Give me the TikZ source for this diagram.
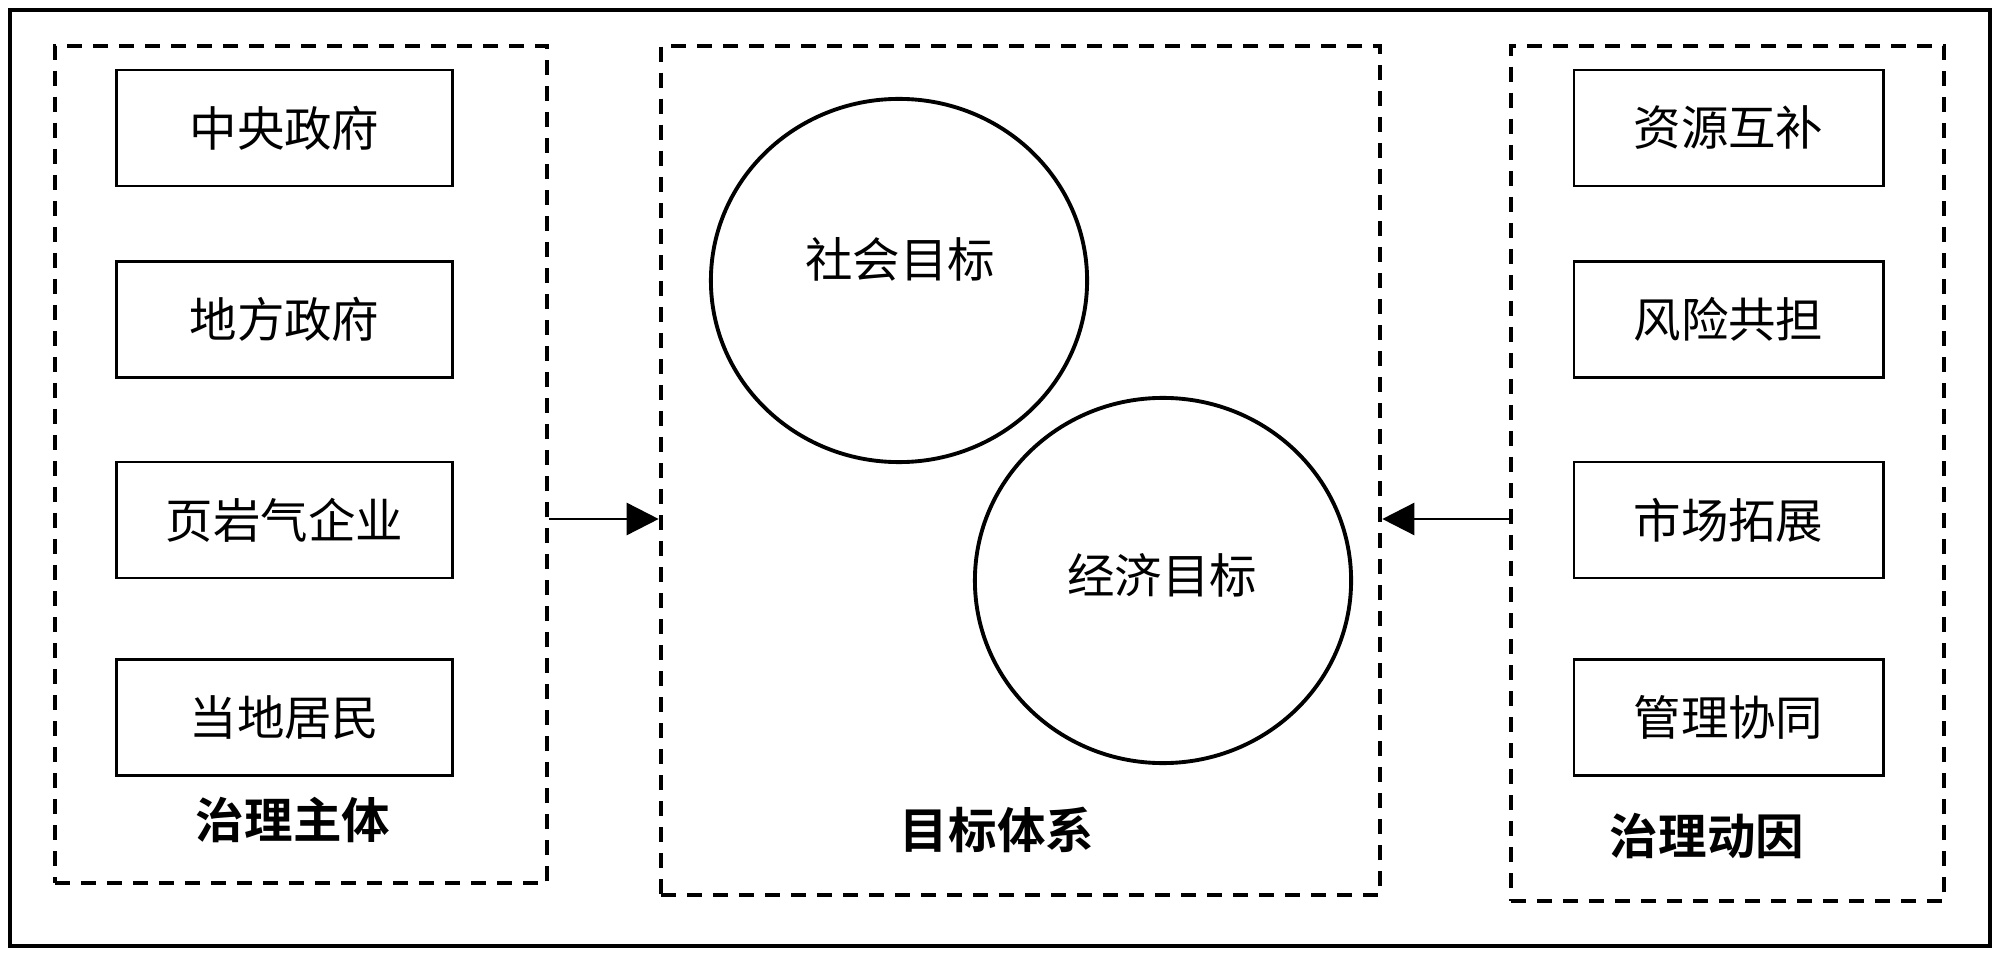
\documentclass[tikz,border=0pt]{standalone}
\usepackage{fontspec}
\usetikzlibrary{arrows.meta,shapes.geometric}
\newfontfamily\cjk{Noto Sans CJK SC}
\newfontfamily\cjkb{Noto Sans CJK SC Bold}
\begin{document}
\begin{tikzpicture}[x=0.01cm,y=-0.01cm,
  dbox/.style={draw,line width=1.2pt,dash pattern=on 0.15cm off 0.11cm,minimum height=#1,inner sep=0pt},
  itembox/.style={draw,line width=0.8pt,minimum height=1.16cm,inner sep=0pt,font=\cjk\fontsize{13.5pt}{15pt}\selectfont},
  ring/.style={draw,ellipse,line width=1.1pt,inner sep=0pt},
  title/.style={font=\cjkb\fontsize{13.8pt}{15pt}\selectfont,inner sep=0pt},
  txt/.style={font=\cjk\fontsize{13.5pt}{15pt}\selectfont,inner sep=0pt},
  arr/.style={line width=0.75pt,-{Triangle[length=0.32cm,width=0.32cm]}}]
\useasboundingbox (0,0) rectangle (2000,955);
\draw[line width=1.3pt] (10,10) rectangle (1990,946);
% dashed groups
\node[dbox=8.37cm,minimum width=4.92cm] (L) at (301,464.5) {};
\node[dbox=8.49cm,minimum width=7.19cm] (M) at (1020.5,470.5) {};
\node[dbox=8.55cm,minimum width=4.33cm] (R) at (1727.5,473.5) {};
% left items
\node[itembox,minimum width=3.35cm] (l1) at (284.5,128) {中央政府};
\node[itembox,minimum width=3.35cm] (l2) at (284.5,319.5) {地方政府};
\node[itembox,minimum width=3.35cm] (l3) at (284.5,520) {页岩气企业};
\node[itembox,minimum width=3.35cm] (l4) at (284.5,717.5) {当地居民};
\node[title] (lt) at (293,820) {治理主体};
% right items
\node[itembox,minimum width=3.09cm] (r1) at (1728.5,128) {资源互补};
\node[itembox,minimum width=3.09cm] (r2) at (1728.5,319.5) {风险共担};
\node[itembox,minimum width=3.09cm] (r3) at (1728.5,520) {市场拓展};
\node[itembox,minimum width=3.09cm] (r4) at (1728.5,717.5) {管理协同};
\node[title] (rt) at (1707,836) {治理动因};
% middle
\node[ring,minimum width=3.76cm,minimum height=3.63cm] (c1) at (899,280.5) {};
\node[txt] (c1t) at (900,259) {社会目标};
\node[ring,minimum width=3.76cm,minimum height=3.65cm] (c2) at (1163,580.5) {};
\node[txt] (c2t) at (1162,575) {经济目标};
\node[title] (mt) at (997,830) {目标体系};
% arrows
\coordinate (ay) at (0,519);
\draw[arr] (L.east |- ay) -- (M.west |- ay);
\draw[arr] (R.west |- ay) -- (M.east |- ay);
\end{tikzpicture}
\end{document}
